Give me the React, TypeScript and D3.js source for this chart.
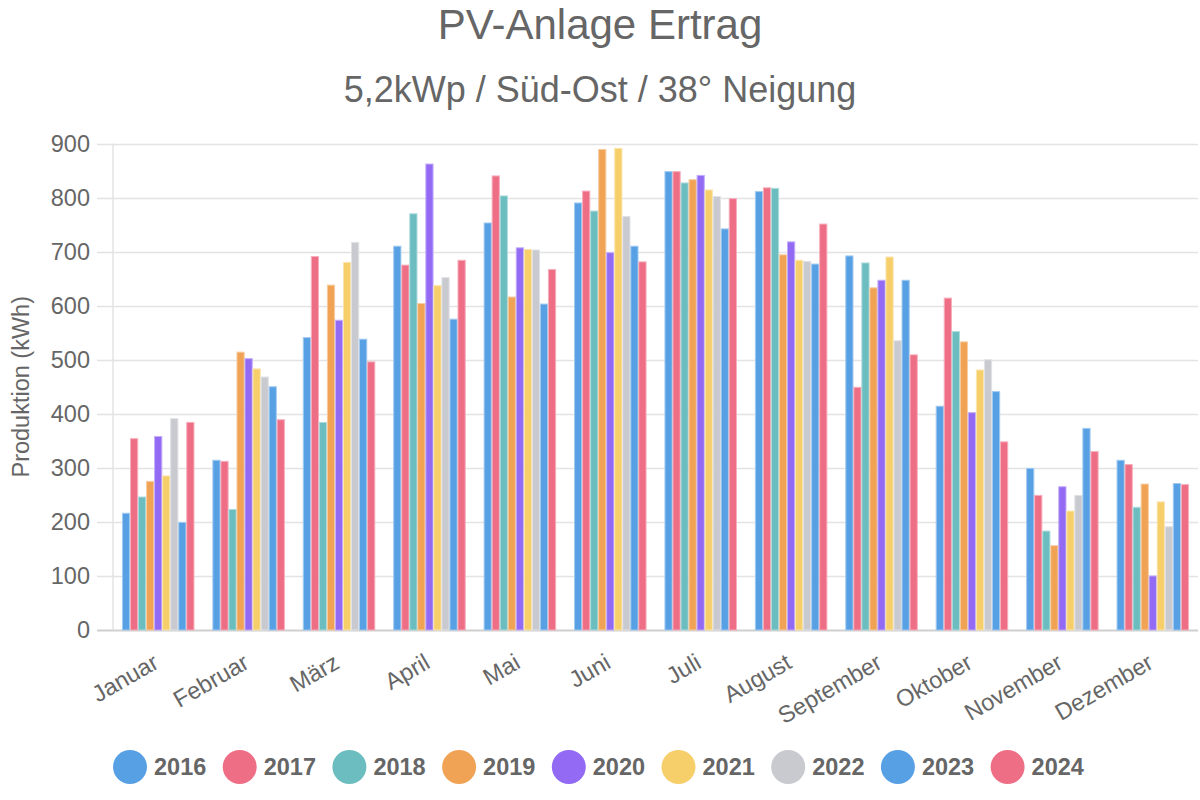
import React from "react";
import * as d3 from "d3";

const months = ["Januar", "Februar", "März", "April", "Mai", "Juni", "Juli", "August", "September", "Oktober", "November", "Dezember"];
const years = ["2016", "2017", "2018", "2019", "2020", "2021", "2022", "2023", "2024"];
const colors = ["#58a0e4", "#ee6e86", "#6cbdbf", "#f0a355", "#926af3", "#f6cf6b", "#c9cacf", "#58a0e4", "#ee6e86"];

const v2016 = [216, 314, 541, 710, 753, 790, 848, 811, 692, 414, 299, 314];
const v2017 = [354, 312, 691, 675, 840, 812, 848, 818, 449, 614, 249, 306];
const v2018 = [246, 223, 384, 770, 803, 775, 827, 817, 679, 552, 183, 227];
const v2019 = [275, 514, 638, 604, 616, 889, 833, 694, 633, 533, 156, 270];
const v2020 = [358, 502, 573, 862, 707, 698, 841, 718, 647, 402, 265, 100];
const v2021 = [285, 483, 680, 637, 704, 891, 814, 684, 690, 481, 220, 237];
const v2022 = [391, 468, 717, 652, 703, 765, 802, 682, 535, 500, 249, 191];
const v2023 = [199, 450, 538, 575, 603, 710, 742, 677, 647, 441, 373, 271];
const v2024 = [384, 389, 496, 684, 667, 681, 798, 751, 509, 348, 330, 269];
const series = [v2016, v2017, v2018, v2019, v2020, v2021, v2022, v2023, v2024];

const yTicks = [0, 100, 200, 300, 400, 500, 600, 700, 800, 900];

const W = 1200, H = 800;
const left = 113, right = 1198, top = 143.5, bottom = 630;
const FONT = "'Liberation Sans', Arial, Helvetica, sans-serif";
const TXT = "#666666";

export default function App() {
  const x = d3.scaleBand<string>().domain(months).range([left, right]).paddingInner(0).paddingOuter(0);
  const inner = d3.scaleBand<string>().domain(years).range([0, x.bandwidth() * 0.8]).paddingInner(0).paddingOuter(0);
  const y = d3.scaleLinear().domain([0, 900]).range([bottom, top]);
  const groupOffset = x.bandwidth() * 0.1;
  const barW = inner.bandwidth() * 0.9;

  return (
    <svg width={W} height={H} style={{ position: "absolute", left: 0, top: 0, background: "#fff" }} fontFamily={FONT}>
      <text x={600} y={39} textAnchor="middle" fontSize={42} fill={TXT}>PV-Anlage Ertrag</text>
      <text x={600} y={102} textAnchor="middle" fontSize={36} fill={TXT}>5,2kWp / Süd-Ost / 38° Neigung</text>

      {yTicks.map((t) => (
        <g key={t}>
          <line x1={97} x2={right} y1={Math.round(y(t)) + 0.5} y2={Math.round(y(t)) + 0.5} stroke={t === 0 ? "#cfcfcf" : "#e3e3e3"} strokeWidth={t === 0 ? 2 : 1.5} />
          <text x={90} y={y(t)} dy="0.35em" textAnchor="end" fontSize={23.5} fill={TXT}>{t}</text>
        </g>
      ))}
      <line x1={left} x2={left} y1={top} y2={bottom} stroke="#e3e3e3" strokeWidth={1.5} />

      <text transform={`translate(29,${(top + bottom) / 2}) rotate(-90)`} textAnchor="middle" fontSize={23.5} fill={TXT}>Produktion (kWh)</text>

      {months.map((m, mi) => (
        <g key={m}>
          {series.map((s, si) => {
            const bx = (x(m) as number) + groupOffset + (inner(years[si]) as number) + (inner.bandwidth() - barW) / 2;
            const by = y(s[mi]);
            return (
              <rect key={si} x={bx} y={by} width={barW} height={bottom - by} fill={colors[si]}
                stroke={d3.interpolateRgb(colors[si], "#ffffff")(0.45)} strokeWidth={1} />
            );
          })}
          <text transform={`translate(${(x(m) as number) + x.bandwidth() / 2 + 2},${667}) rotate(-30)`} textAnchor="end" fontSize={23.5} fill={TXT}>{m}</text>
        </g>
      ))}

      {years.map((yr, i) => (
        <g key={i}>
          <circle cx={130 + i * 109.7} cy={767} r={17} fill={colors[i]} />
          <text x={154 + i * 109.7} y={767} dy="0.36em" fontSize={23.5} fontWeight="bold" fill={TXT}>{yr}</text>
        </g>
      ))}
    </svg>
  );
}
